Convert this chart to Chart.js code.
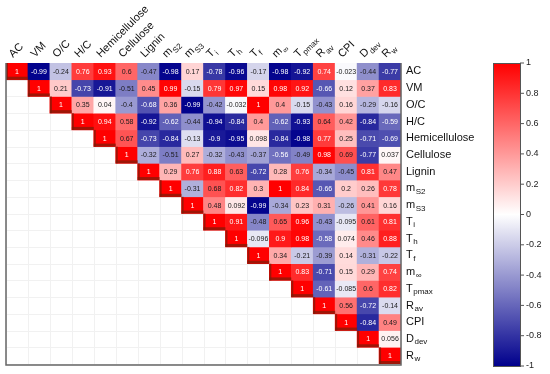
<!DOCTYPE html>
<html><head><meta charset="utf-8">
<script src="https://cdn.jsdelivr.net/npm/chart.js@4/dist/chart.umd.min.js"></script>
<style>html,body{margin:0;padding:0;background:#fff}#wrap{width:550px;height:374px;position:relative}</style>
</head><body><div id="wrap"><canvas id="c" width="550" height="374"></canvas></div>
<script>
// Variable names (base text + subscript)
const varBase = ['AC','VM','O/C','H/C','Hemicellulose','Cellulose','Lignin','m','m','T','T','T','m','T','R','CPI','D','R'];
const varSub  = ['','','','','','','','S2','S3','i','h','f','\u221E','pmax','av','','dev','w'];

// Upper-triangle correlation rows (each row starts at the diagonal)
const rowAC    = [1,-0.99,-0.24,0.76,0.93,0.6,-0.47,-0.98,0.17,-0.78,-0.96,-0.17,-0.98,-0.92,0.74,-0.023,-0.44,-0.77];
const rowVM    = [1,0.21,-0.73,-0.91,-0.51,0.45,0.99,-0.15,0.79,0.97,0.15,0.98,0.92,-0.66,0.12,0.37,0.83];
const rowOC    = [1,0.35,0.04,-0.4,-0.68,0.36,-0.99,-0.42,-0.032,1,0.4,-0.15,-0.43,0.16,-0.29,-0.16];
const rowHC    = [1,0.94,0.58,-0.92,-0.62,-0.44,-0.94,-0.84,0.4,-0.62,-0.93,0.64,0.42,-0.84,-0.59];
const rowHemi  = [1,0.67,-0.73,-0.84,-0.13,-0.9,-0.95,0.098,-0.84,-0.98,0.77,0.25,-0.71,-0.69];
const rowCell  = [1,-0.32,-0.51,0.27,-0.32,-0.43,-0.37,-0.56,-0.49,0.98,0.69,-0.77,0.037];
const rowLig   = [1,0.29,0.76,0.88,0.63,-0.72,0.28,0.76,-0.34,-0.45,0.81,0.47];
const rowMS2   = [1,-0.31,0.68,0.82,0.3,1,0.84,-0.66,0.2,0.26,0.78];
const rowMS3   = [1,0.48,0.092,-0.99,-0.34,0.23,0.31,-0.26,0.41,0.16];
const rowTi    = [1,0.91,-0.48,0.65,0.96,-0.43,-0.095,0.61,0.81];
const rowTh    = [1,-0.096,0.9,0.98,-0.58,0.074,0.46,0.88];
const rowTf    = [1,0.34,-0.21,-0.39,0.14,-0.31,-0.22];
const rowMinf  = [1,0.83,-0.71,0.15,0.29,0.74];
const rowTpmax = [1,-0.61,-0.085,0.6,0.82];
const rowRav   = [1,0.56,-0.72,-0.14];
const rowCPI   = [1,-0.84,0.49];
const rowDdev  = [1,0.056];
const rowRw    = [1];
const corrRows = [rowAC,rowVM,rowOC,rowHC,rowHemi,rowCell,rowLig,rowMS2,rowMS3,rowTi,rowTh,rowTf,rowMinf,rowTpmax,rowRav,rowCPI,rowDdev,rowRw];

// Colour bar tick labels
const cbTicks = [1,0.8,0.6,0.4,0.2,0,-0.2,-0.4,-0.6,-0.8,-1];

const N = varBase.length;
const varNames = varBase.map((b,i)=>b+varSub[i]);

function colorFor(v){
  let r,g,b;
  if (v >= 0){ r=255; g=Math.round(255*(1-v)); b=g; }
  else { const t=-v; r=Math.round(255*(1-t)); g=r; b=Math.round(255*(1-t)+140*t); }
  return `rgb(${r},${g},${b})`;
}
function cellValue(i,j){ return corrRows[i][j-i]; }

const datasets = corrRows.map((row,i)=>({
  label: varNames[i],
  data: varNames.map((_,j)=> j>=i ? [i, i+1] : null),
  backgroundColor: varNames.map((_,j)=> j>=i ? colorFor(cellValue(i,j)) : 'rgba(0,0,0,0)'),
  borderWidth: 0,
  grouped: false,
  barPercentage: 1,
  categoryPercentage: 1
}));

const FONT = 'Liberation Sans, Arial, sans-serif';

function drawLabel(ctx, base, sub, x, y, size){
  ctx.font = `${size}px ${FONT}`;
  ctx.fillText(base, x, y);
  if (sub){
    const w = ctx.measureText(base).width;
    ctx.font = `${Math.round(size*0.72)}px ${FONT}`;
    ctx.fillText(sub, x + w + 0.5, y + size*0.3);
  }
}

const deco = {
  id: 'deco',
  beforeDatasetsDraw(chart){
    const {ctx, chartArea:a, scales:{x,y}} = chart;
    ctx.save();
    ctx.strokeStyle = '#f1f1f1'; ctx.lineWidth = 1;
    for (let k=0;k<=N;k++){
      const px = Math.round(a.left + (a.right-a.left)*k/N)+0.5;
      const py = Math.round(y.getPixelForValue(k))+0.5;
      ctx.beginPath(); ctx.moveTo(px,a.top); ctx.lineTo(px,a.bottom); ctx.stroke();
      ctx.beginPath(); ctx.moveTo(a.left,py); ctx.lineTo(a.right,py); ctx.stroke();
    }
    ctx.restore();
  },
  afterDatasetsDraw(chart){
    const {ctx, chartArea:a, scales:{x,y}} = chart;
    const cw = (a.right-a.left)/N;
    ctx.save();
    // diagonal shading
    for (let i=0;i<N;i++){
      const cx = x.getPixelForValue(i), y0 = y.getPixelForValue(i), y1 = y.getPixelForValue(i+1);
      ctx.fillStyle = 'rgba(120,30,10,0.7)';
      ctx.fillRect(cx - cw/2, y1 - 3, cw, 3);
      ctx.fillRect(cx - cw/2, y0, 2, y1-y0);
    }
    // cell numbers
    ctx.textAlign = 'center'; ctx.textBaseline = 'middle';
    ctx.font = `7px ${FONT}`;
    for (let i=0;i<N;i++){
      for (let j=i;j<N;j++){
        const v = cellValue(i,j);
        const cx = x.getPixelForValue(j), cy = y.getPixelForValue(i+0.5);
        ctx.fillStyle = (v >= 0.7 || v <= -0.53) ? '#ffffff' : '#1a1a1a';
        ctx.fillText(String(v), cx, cy+0.5);
      }
    }
    // frame
    ctx.strokeStyle = '#666'; ctx.lineWidth = 1.5;
    ctx.beginPath();
    ctx.moveTo(a.left, a.top); ctx.lineTo(a.left, a.bottom+1); ctx.lineTo(a.right, a.bottom+1); ctx.lineTo(a.right, a.top);
    ctx.stroke();
    // top labels
    ctx.fillStyle = '#111'; ctx.textAlign = 'left'; ctx.textBaseline = 'alphabetic';
    for (let j=0;j<N;j++){
      const cx = x.getPixelForValue(j);
      ctx.save();
      ctx.translate(cx-4, a.top-5);
      ctx.rotate(-Math.PI/4);
      drawLabel(ctx, varBase[j], varSub[j], 0, 0, 11);
      ctx.restore();
    }
    // right labels
    ctx.textBaseline = 'middle';
    for (let i=0;i<N;i++){
      const cy = y.getPixelForValue(i+0.5);
      drawLabel(ctx, varBase[i], varSub[i], a.right+5, cy, 11);
    }
    // colour bar
    const bx = 493, bw = 27, bt = a.top, bb = a.bottom+2;
    const grad = ctx.createLinearGradient(0, bt, 0, bb);
    for (let k=0;k<=20;k++){ const v = 1 - k/10; grad.addColorStop(k/20, colorFor(v)); }
    ctx.fillStyle = grad; ctx.fillRect(bx, bt, bw, bb-bt);
    ctx.strokeStyle = '#555'; ctx.lineWidth = 1;
    ctx.strokeRect(bx+0.5, bt+0.5, bw, bb-bt);
    ctx.font = `9px ${FONT}`; ctx.fillStyle = '#222'; ctx.textAlign = 'left'; ctx.textBaseline = 'middle';
    for (const t of cbTicks){
      const py = bt + (1 - t)/2*(bb-bt);
      ctx.beginPath(); ctx.moveTo(bx+bw, py); ctx.lineTo(bx+bw+4, py); ctx.stroke();
      ctx.fillText(String(t), bx+bw+6, py);
    }
    ctx.restore();
  }
};

new Chart(document.getElementById('c'), {
  type: 'bar',
  data: { labels: varNames, datasets },
  options: {
    responsive: false,
    animation: false,
    devicePixelRatio: 1,
    layout: { padding: { left: 6, top: 63, right: 149, bottom: 10 } },
    scales: {
      x: { display: false, offset: true },
      y: { type: 'linear', display: false, min: 0, max: N, reverse: true }
    },
    plugins: { legend: { display: false }, tooltip: { enabled: false } }
  },
  plugins: [deco]
});
</script></body></html>
